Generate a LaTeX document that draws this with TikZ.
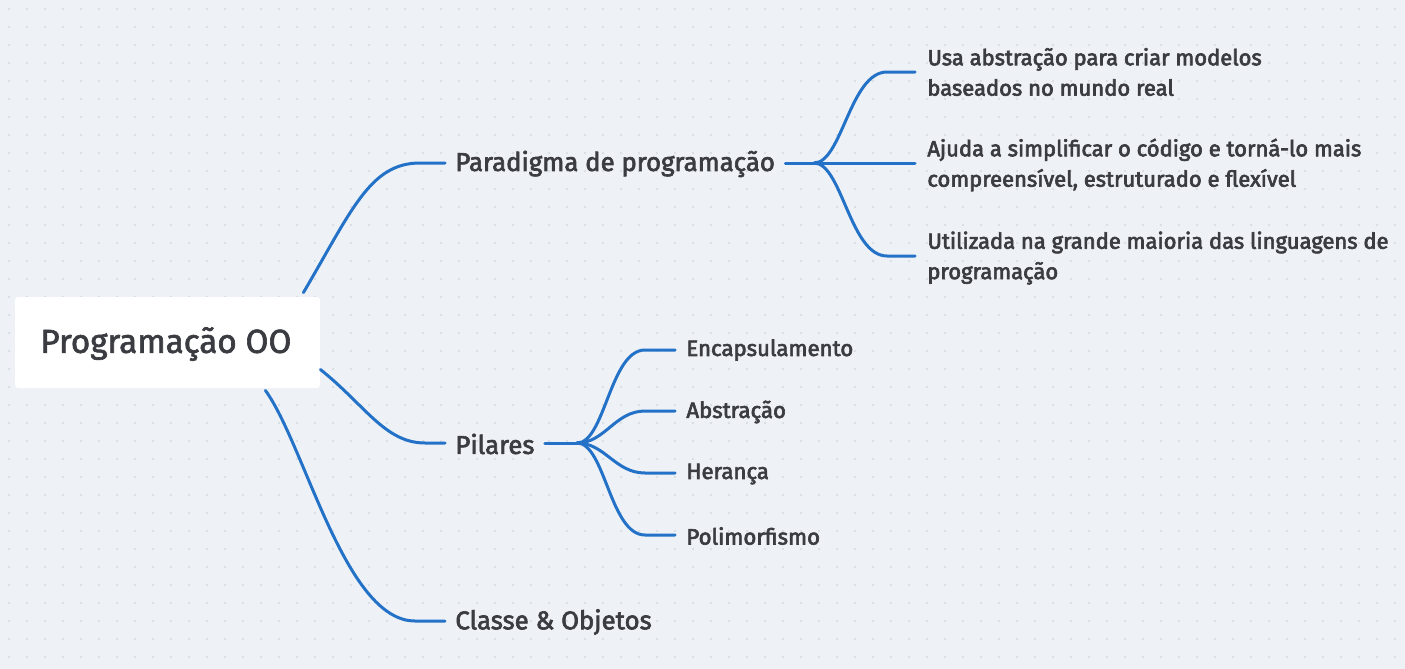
\documentclass[tikz,border=0pt]{standalone}
\usepackage{fontspec}
\setmainfont{Fira Sans}
\newcommand\hv[1]{\special{pdf:literal direct 2 Tr 0.32 w}#1\special{pdf:literal direct 0 Tr}}
\definecolor{bgc}{HTML}{EEF1F5}
\definecolor{dotc}{HTML}{D3D9E1}
\definecolor{linec}{HTML}{2472C8}
\definecolor{txtc}{HTML}{3A3C41}
\tikzset{
  conn/.style={draw=linec, line width=1.5pt, line cap=round},
  lvl1/.style={anchor=west, inner sep=0pt, text=txtc, font=\fontsize{12.9}{15}\selectfont},
  leafp/.style={anchor=west, inner sep=0pt, text=txtc, align=left, font=\fontsize{11}{15.2}\selectfont},
  leafq/.style={anchor=west, inner sep=0pt, text=txtc, font=\fontsize{11.1}{13}\selectfont},
}
\begin{document}
\begin{tikzpicture}[x=0.5pt,y=-0.5pt]
\fill[bgc] (0,0) rectangle (1405,669);
\useasboundingbox (0,0) rectangle (1405,669);
\foreach \i in {0,...,77} {
  \foreach \j in {0,...,37} {
    \fill[dotc] (9+18*\i,9+18*\j) circle (0.55pt);
  }
}
% root
\node[fill=white, rounded corners=1.5pt, minimum width=152.5pt, minimum height=45.5pt, inner sep=0pt] (root) at (167.5,342.5) {};
\node[anchor=west, inner sep=0pt, text=txtc, font=\fontsize{16.6}{20}\selectfont] (roott) at (40,344) {\hv{Programação OO}};
% level 1
\node[lvl1] (p1) at (455,164) {\hv{Paradigma de programação}};
\node[lvl1] (p2) at (455,444) {\hv{Pilares}};
\node[lvl1] (p3) at (455,622) {\hv{Classe \& Objetos}};
% connectors from root
\coordinate (s1) at ([xshift=-8.5pt,yshift=2pt]root.north east);
\coordinate (s2) at ([yshift=-13.5pt]root.east);
\coordinate (s3) at ([xshift=-27.5pt,yshift=-1pt]root.south east);
\draw[conn] (s1) .. controls (352,210) and (370,163) .. (420,163) -- ([xshift=-5pt]p1.west |- 0,163);
\draw[conn] (s2) .. controls (365,405) and (385,443) .. (425,443) -- ([xshift=-5pt]p2.west |- 0,443);
\draw[conn] (s3) .. controls (305,445) and (345,621) .. (415,621) -- ([xshift=-5pt]p3.west |- 0,621);
% paradigma leaves
\coordinate (j1) at (814,163);
\node[leafp] (a1) at (927,72) {\hv{Usa abstração para criar modelos}\\\hv{baseados no mundo real}};
\node[leafp] (a2) at (927,165) {\hv{Ajuda a simplificar o código e torná-lo mais}\\\hv{compreensível, estruturado e flexível}};
\node[leafp] (a3) at (927,258) {\hv{Utilizada na grande maioria das linguagens de}\\\hv{programação}};
\draw[conn] ([xshift=5pt]p1.east |- 0,163) -- (j1);
\draw[conn] (j1) .. controls (842,163) and (850,72) .. (887,72) -- (915,72);
\draw[conn] (j1) -- (915,163);
\draw[conn] (j1) .. controls (842,163) and (850,256) .. (887,256) -- (915,256);
% pilares leaves
\coordinate (j2) at (577,443);
\node[leafq] (b1) at (686,350) {\hv{Encapsulamento}};
\node[leafq] (b2) at (686,412) {\hv{Abstração}};
\node[leafq] (b3) at (686,474) {\hv{Herança}};
\node[leafq] (b4) at (686,536) {\hv{Polimorfismo}};
\draw[conn] ([xshift=5pt]p2.east |- 0,443) -- (j2);
\draw[conn] (j2) .. controls (605,443) and (610,350) .. (645,350) -- (675,350);
\draw[conn] (j2) .. controls (605,443) and (615,411) .. (645,411) -- (675,411);
\draw[conn] (j2) .. controls (605,443) and (615,473) .. (645,473) -- (675,473);
\draw[conn] (j2) .. controls (605,443) and (610,535) .. (645,535) -- (675,535);
\end{tikzpicture}
\end{document}
